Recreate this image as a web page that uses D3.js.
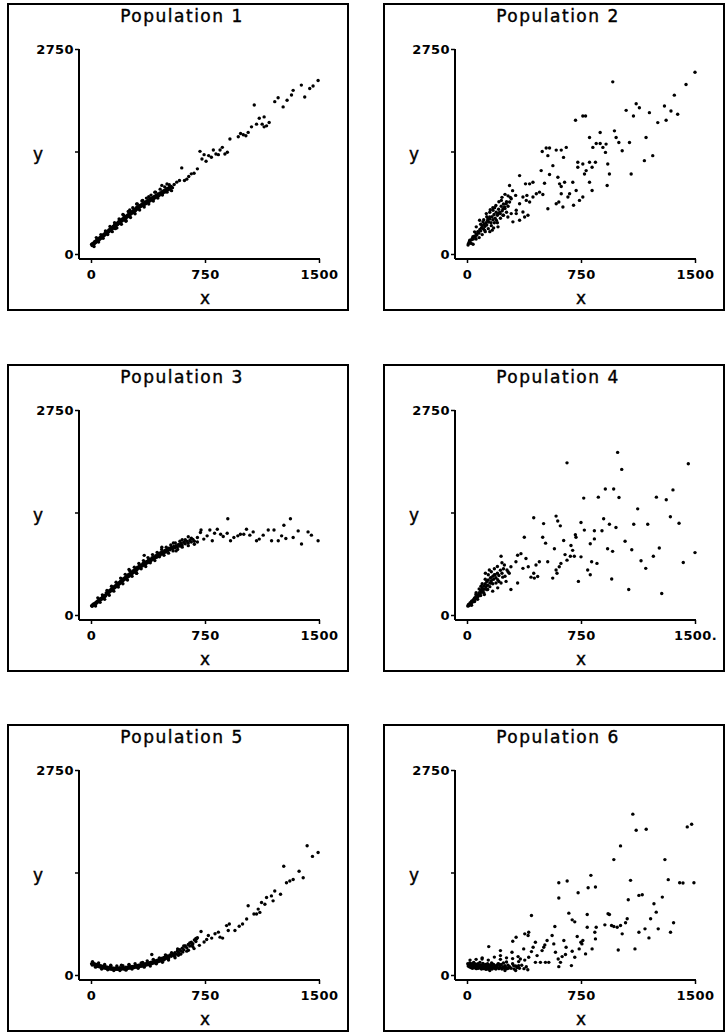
<!DOCTYPE html>
<html>
<head>
<meta charset="utf-8">
<script src="https://cdn.jsdelivr.net/npm/d3@7"></script>
<style>
  body { margin: 0; background: #fff; }
  text { fill: #000; }
</style>
</head>
<body>
<svg id="chart" width="726" height="1033"></svg>
<script>
// Panel titles and axis ticks
const titles = ["Population 1", "Population 2", "Population 3", "Population 4", "Population 5", "Population 6"];
const xTicks = [0, 750, 1500];
const yTicks = [0, 1375, 2750];
const yTickLabels = ["0", "", "2750"];
const xTickLabels = [["0", "750", "1500"], ["0", "750", "1500"], ["0", "750", "1500"],
                     ["0", "750", "1500."], ["0", "750", "1500"], ["0", "750", "1500"]];

// Population 1: almost straight line
const pop1 = [
  [4,130],[7,115],[10,138],[13,125],[16,145],[19,135],[22,160],[25,145],[28,168],[31,158],[34,178],[37,165],[40,190],[43,178],
  [46,198],[49,188],[52,210],[55,196],[58,220],[61,205],[64,228],[67,215],[70,240],[73,225],[76,250],[79,238],[82,258],[85,245],
  [88,270],[91,256],[94,280],[97,268],[100,290],[103,275],[106,300],[109,288],[112,310],[115,296],[118,322],[121,305],[124,330],
  [127,318],[130,342],[133,326],[136,352],[139,338],[142,362],[145,345],[148,372],[151,358],[154,385],[157,368],[160,392],[163,375],
  [166,402],[169,388],[172,410],[175,395],[178,425],[181,405],[184,432],[187,418],[190,440],[193,425],[196,455],[199,438],[202,462],
  [206,445],[210,475],[214,458],[218,490],[222,470],[226,500],[230,482],[234,512],[238,495],[242,525],[246,505],[250,540],[254,520],
  [258,552],[262,535],[266,565],[270,548],[274,575],[278,560],[282,590],[286,570],[290,602],[294,585],[298,620],[302,600],[306,630],
  [310,612],[315,645],[320,628],[325,655],[330,640],[335,668],[340,652],[345,680],[350,662],[355,695],[360,675],[365,705],[370,690],
  [375,720],[380,700],[385,735],[390,715],[395,745],[400,728],[406,760],[412,740],[418,775],[424,755],[430,790],[436,770],[442,805],
  [448,785],[454,820],[460,800],[466,835],[472,815],[478,850],[484,830],[490,862],[496,845],[502,878],[508,860],[514,892],[520,872],
  [528,905],[536,890],[210,530],[255,590],[300,670],[340,720],[380,770],[420,830],[466,920],[500,940],[230,450],[160,340],
  [20,100],[35,220],[50,160],[65,260],[80,210],[95,310],[110,260],[125,370],[140,300],[155,420],[170,350],[185,470],[200,400],
  [215,520],[230,440],[245,570],[260,490],[275,620],[290,540],[305,670],[320,590],[335,710],[350,630],[365,750],[380,670],
  [395,790],[410,710],[425,830],[440,750],[455,870],[470,790],[485,900],[500,830],[515,930],[530,850],
  [547,933],[564,964],[582,986],[597,1155],[615,986],[630,1004],[643,1040],[660,1075],[678,1084],[700,1142],[717,1377],[730,1275],
  [744,1333],[757,1244],[774,1320],[792,1297],[805,1395],[822,1342],[838,1333],[849,1395],[864,1431],[881,1342],[897,1364],
  [914,1542],[969,1573],[984,1617],[1002,1600],[1019,1586],[1034,1631],[1056,1706],[1074,1999],[1089,1742],[1107,1822],
  [1126,1742],[1139,1839],[1139,1706],[1155,1719],[1172,1764],[1209,2044],[1231,2097],[1264,1973],[1290,2062],[1319,2133],
  [1330,2195],[1384,2266],[1406,2106],[1439,2221],[1461,2253],[1494,2328]
];

// Population 2: linear trend, spread growing with x
const pop2 = [
  [10,140],[15,165],[22,150],[30,190],[35,210],[42,200],[48,240],[55,230],[60,270],[65,255],[72,300],[78,280],[85,330],[90,310],
  [95,350],[100,380],[108,340],[112,400],[118,370],[125,420],[130,390],[135,450],[142,430],[150,470],[158,420],[165,500],[170,460],
  [178,530],[185,480],[192,560],[200,520],[208,600],[215,560],[225,640],[232,580],[240,670],[250,610],[260,700],[270,640],[285,760],
  [40,130],[60,200],[80,220],[100,260],[120,300],[140,340],[160,380],[180,420],[90,400],[110,460],[130,500],[150,560],[170,620],
  [190,650],[210,700],[230,760],[250,800],[200,420],[220,480],[240,520],[260,560],[270,780],[300,850],[150,300],[175,350],
  [7,120],[28,142],[18,186],[39,231],[50,297],[72,297],[61,364],[83,453],[116,320],[105,431],[138,475],[127,542],[149,497],
  [171,586],[153,595],[182,622],[204,542],[219,542],[237,608],[226,719],[247,630],[258,675],[280,697],[291,741],[280,919],
  [324,586],[390,719],[368,764],[320,786],[346,1052],[346,675],[412,697],[434,764],[499,799],[477,830],[456,808],[394,786],
  [385,941],[412,941],[434,963],[620,808],[718,852],[696,963],[532,608],[587,675],[631,630],[604,697],[620,906],[664,764],
  [675,808],[642,963],[609,941],[598,1030],[543,1066],[510,950],[565,1185],[488,1119],[532,1319],[495,1376],[521,1421],
  [543,1421],[587,1394],[620,1394],[635,1296],[653,1430],[701,653],[740,719],[762,764],[823,852],[806,963],[729,1163],
  [729,1230],[773,1074],[762,1208],[784,1119],[806,1230],[845,1230],[823,1163],[922,919],[937,1074],[926,1208],[911,1363],
  [828,1430],[876,1629],[714,1794],[780,1851],[762,1851],[806,1563],[850,1483],[876,1483],[894,1430],[915,1474],[1222,1319],
  [1167,1252],[1080,1074],[1069,1496],[1021,1385],[999,1496],[981,1563],[970,1652],[959,2309],[1047,1927],[1095,1851],
  [1134,1962],[1113,2016],[1178,1563],[1200,1896],[1255,1763],[1310,1794],[1386,1874],[1299,1985],[1342,1918],[1364,2131],
  [1441,2273],[1500,2438],[379,497],[302,431],[291,542],[193,453],[204,364],[166,320],[237,520],[269,497],[324,542],
  [368,564],[401,520],[346,453]
];

// Population 3: concave curve levelling off
const pop3 = [
  [4,125],[8,118],[12,140],[16,132],[20,150],[24,142],[28,162],[32,155],[36,175],[40,165],[44,190],[48,180],[52,200],[56,192],
  [60,215],[64,205],[68,225],[72,215],[76,238],[80,228],[84,250],[88,240],[92,262],[96,255],[100,295],[104,280],[108,305],
  [112,292],[116,318],[120,305],[124,330],[128,318],[132,345],[136,330],[140,360],[144,345],[148,372],[152,360],[156,388],
  [160,372],[164,398],[168,385],[172,412],[176,398],[180,428],[184,412],[188,440],[192,425],[196,458],[200,440],[205,475],
  [210,460],[215,490],[220,475],[225,505],[230,490],[235,520],[240,505],[245,540],[250,520],[255,555],[260,540],[265,570],
  [270,555],[275,590],[280,570],[285,600],[290,585],[295,615],[300,600],[306,640],[312,625],[318,655],[324,640],[330,670],
  [336,655],[342,690],[348,670],[354,705],[360,685],[366,720],[372,700],[378,735],[384,715],[390,750],[396,730],[402,768],
  [408,748],[414,780],[420,760],[426,795],[432,775],[438,805],[444,790],[450,830],[456,805],[462,840],[468,820],[474,850],
  [480,835],[486,865],[492,845],[498,880],[505,860],[512,895],[520,875],[528,905],[536,888],[544,920],[552,900],[560,930],
  [568,912],[576,945],[584,925],[592,960],[600,940],[610,975],[620,955],[630,990],[640,965],[650,1000],[660,980],[670,1015],
  [680,990],[350,800],[466,909],[300,560],[250,610],[542,966],[600,1010],[560,860],[640,1050],
  [30,120],[45,230],[60,170],[75,270],[90,210],[105,330],[120,265],[135,385],[150,320],[165,440],[180,375],[195,495],[210,420],
  [225,545],[240,470],[255,595],[270,520],[285,640],[300,560],[315,690],[330,620],[345,730],[360,650],[375,770],[390,700],
  [405,810],[420,730],[435,840],[450,780],[465,880],[480,800],[495,910],[510,830],[525,940],[540,860],[555,965],[570,880],
  [585,990],[600,910],[620,1010],[640,930],[660,1030],[680,950],[700,1040],[700,980],
  [720,1106],[724,1141],[742,1018],[764,1062],[782,1141],[798,997],[813,1097],[831,1150],[853,1084],[870,1054],[896,1097],
  [900,1291],[918,997],[940,1040],[966,1062],[983,1084],[1005,1084],[1023,1150],[1045,1071],[1067,1115],[1089,997],
  [1107,1018],[1133,1071],[1166,1141],[1188,997],[1204,1141],[1232,997],[1254,1062],[1269,1203],[1282,1027],[1312,1291],
  [1330,1040],[1363,1128],[1385,953],[1428,1115],[1450,1071],[1494,997]
];

// Population 4: wide fan
const pop4 = [
  [5,120],[10,140],[15,130],[20,160],[25,150],[30,185],[35,170],[40,200],[45,190],[50,230],[55,210],[60,250],[65,235],[70,270],
  [75,255],[80,300],[85,280],[90,330],[95,305],[100,360],[105,330],[110,390],[115,350],[120,420],[125,380],[130,450],[135,400],
  [140,470],[150,430],[155,500],[160,460],[170,520],[175,480],[185,540],[190,500],[200,560],[210,530],[220,600],[230,560],[240,620],
  [30,130],[50,180],[70,210],[90,260],[110,300],[130,340],[150,380],[170,420],[60,300],[80,350],[100,420],[120,480],[140,540],
  [160,580],[180,620],[200,650],[230,700],[250,520],[270,580],[210,450],
  [11,123],[26,166],[44,210],[59,276],[70,245],[92,385],[103,342],[114,276],[121,561],[136,342],[147,604],[158,429],[169,320],
  [180,539],[191,429],[202,473],[202,364],[224,788],[224,429],[235,508],[246,670],[257,451],[263,604],[278,561],[289,648],
  [289,342],[322,714],[333,801],[333,429],[355,823],[368,626],[377,1042],[388,758],[403,648],[421,508],[439,561],[443,495],
  [454,670],[465,517],[476,714],[531,714],[564,495],[586,604],[592,561],[607,648],[618,692],[658,736],[680,788],[695,867],
  [733,451],[794,604],[811,539],[820,714],[855,692],[952,482],[1064,342],[1281,289],[575,889],[645,810],[706,788],[750,780],
  [925,889],[958,854],[1040,990],[1084,876],[1145,727],[1176,626],[1226,788],[1265,898],[1500,837],[1423,705],[498,1042],
  [517,964],[636,999],[684,933],[713,1077],[717,1042],[838,1021],[811,955],[772,1139],[838,1130],[888,1130],[504,1226],
  [439,1305],[586,1327],[597,1261],[614,1196],[750,1240],[899,1292],[937,1218],[980,1174],[1097,1218],[1189,1218],[1338,1318],
  [1395,1231],[1123,1424],[910,1691],[965,1691],[768,1568],[864,1581],[1000,1577],[1246,1581],[1311,1546],[1355,1678],
  [658,2041],[991,2181],[1018,1953],[1456,2028]
];

// Population 5: convex curve, flat near zero then rising
const pop5 = [
  [4,150],[8,135],[12,160],[16,140],[20,150],[24,130],[28,145],[32,125],[36,140],[40,120],[44,135],[48,115],[52,130],[56,110],
  [60,125],[64,105],[68,120],[72,100],[76,115],[80,95],[84,110],[88,95],[92,115],[96,90],[100,108],[105,88],[110,105],[115,85],
  [120,100],[125,80],[130,98],[135,78],[140,95],[145,80],[150,92],[155,75],[160,90],[165,78],[170,95],[175,75],[180,90],[185,80],
  [190,98],[195,78],[200,92],[205,82],[210,100],[215,80],[220,95],[225,85],[230,105],[235,85],[240,100],[245,90],[250,110],
  [255,92],[260,108],[265,95],[270,115],[275,98],[280,112],[285,100],[290,120],[295,105],[300,125],[306,108],[312,130],[318,112],
  [324,135],[330,118],[336,140],[342,122],[348,148],[354,128],[360,152],[366,135],[372,160],[378,140],[384,165],[390,148],
  [396,172],[402,155],[408,180],[414,160],[420,188],[426,168],[432,195],[438,178],[444,205],[450,185],[456,215],[462,195],
  [468,225],[474,205],[480,235],[486,215],[492,245],[498,225],[505,255],[512,240],[520,270],[528,250],[536,285],[544,265],
  [552,300],[560,280],[568,320],[576,300],[584,340],[592,320],[600,360],[610,340],[620,385],[630,365],[640,410],[650,390],
  [660,440],[670,420],[680,470],[690,450],[700,500],[130,130],[200,130],[250,140],[340,170],[400,274],
  [10,180],[30,105],[50,160],[70,80],[90,140],[110,70],[130,120],[150,60],[170,120],[190,60],[210,125],[230,65],[250,135],
  [270,80],[290,150],[310,90],[330,160],[350,105],[370,190],[390,120],[410,210],[430,150],[450,230],[470,170],[490,270],
  [510,200],[530,300],[550,250],[570,350],[590,280],[610,390],[630,320],[650,430],[670,380],[690,490],
  [433,168],[477,199],[510,221],[553,230],[575,265],[604,309],[619,389],[641,332],[663,398],[678,354],[695,486],[713,398],
  [724,583],[744,442],[761,477],[772,530],[794,495],[816,553],[849,508],[838,575],[903,597],[866,495],[892,663],[910,685],
  [947,597],[975,654],[997,685],[1024,751],[1034,928],[1072,818],[1111,840],[1089,818],[1100,884],[1122,972],[1144,950],
  [1155,1039],[1187,1061],[1198,995],[1209,1127],[1247,1083],[1286,1238],[1308,1260],[1330,1282],[1396,1304],[1369,1392],
  [1268,1459],[1457,1591],[1494,1644],[1422,1733]
];

// Population 6: convex trend, spread growing with x
const pop6 = [
  [5,150],[8,120],[12,140],[15,110],[18,160],[22,130],[25,100],[28,150],[32,120],[35,90],[38,140],[42,110],[45,160],[48,95],
  [52,130],[55,105],[58,145],[62,85],[65,125],[68,100],[72,150],[75,90],[78,130],[82,110],[85,170],[88,95],[92,135],[95,80],
  [98,120],[102,100],[105,155],[108,85],[112,130],[115,105],[118,90],[122,140],[125,75],[128,115],[132,95],[135,150],[138,80],
  [142,120],[145,100],[148,135],[152,85],[155,110],[158,95],[162,160],[165,80],[168,125],[172,100],[175,140],[180,90],[185,115],
  [190,80],[195,130],[200,100],[205,150],[210,85],[215,120],[220,95],[225,140],[230,80],[235,110],[240,160],[245,90],[250,125],
  [255,100],[260,175],[265,85],[270,130],[280,110],[290,90],[300,150],[310,80],[320,120],[330,100],[345,90],[360,130],[375,85],
  [390,110],[20,200],[60,210],[100,230],[140,200],[180,240],[220,210],[260,230],[300,220],[340,180],[380,200],[150,60],
  [250,60],[320,60],[400,70],
  [44,170],[99,215],[121,126],[143,381],[165,148],[208,148],[220,260],[220,327],[274,94],[296,305],[301,453],
  [307,126],[323,507],[336,247],[340,126],[351,215],[373,350],[380,552],[402,529],[406,574],[406,238],[424,798],[424,314],
  [435,372],[450,440],[450,170],[461,260],[483,170],[494,327],[505,372],[512,404],[516,170],[527,462],[538,170],[560,529],
  [571,417],[578,650],[582,305],[600,215],[604,112],[615,170],[626,247],[637,462],[648,274],[652,372],[670,830],[687,126],
  [692,740],[692,318],[709,713],[709,238],[725,516],[738,350],[749,440],[756,417],[762,462],[780,283],[791,641],[791,812],
  [823,350],[841,574],[845,484],[850,641],[907,673],[928,821],[937,812],[951,664],[966,650],[988,641],[995,336],[1010,664],
  [1021,552],[1043,700],[1054,754],[1105,350],[1131,574],[1171,619],[1197,498],[1208,754],[1245,843],[1258,619],[1339,574],
  [1359,700],[1230,956],[1285,1045],[1061,1009],[1131,1068],[1153,1077],[845,1180],[797,1171],[731,1104],[604,1032],
  [604,1238],[659,1261],[815,1337],[1076,1270],[1324,1279],[1399,1238],[1421,1234],[1493,1238],[966,1548],[1302,1548],
  [1010,1732],[1091,2158],[1113,1942],[1179,1956],[1449,1987],[1478,2023]
];

const populations = [pop1, pop2, pop3, pop4, pop5, pop6];

// Layout of the 3x2 grid
const boxW = 340, boxH = 306;
const colX = [8, 384];
const rowY = [4, 365, 725];
const axisX = 71, axisY = 255;

const svg = d3.select("#chart");

populations.forEach((data, i) => {
    const g = svg.append("g")
        .attr("transform", `translate(${colX[i % 2]},${rowY[Math.floor(i / 2)]})`);

    // Frame round the panel
    g.append("rect")
        .attr("x", 0).attr("y", 0)
        .attr("width", boxW).attr("height", boxH)
        .attr("fill", "none")
        .attr("stroke", "#000")
        .attr("stroke-width", 2);

    const x = d3.scaleLinear().domain([0, 1500]).range([83, 311]);
    const y = d3.scaleLinear().domain([0, 2750]).range([250, 45]);

    // Axis lines
    g.append("line")
        .attr("x1", axisX).attr("x2", axisX)
        .attr("y1", y(2750)).attr("y2", axisY)
        .attr("stroke", "#000").attr("stroke-width", 2);
    g.append("line")
        .attr("x1", axisX).attr("x2", x(1500) + 1)
        .attr("y1", axisY).attr("y2", axisY)
        .attr("stroke", "#000").attr("stroke-width", 2);

    const yAxis = g.append("g")
        .attr("transform", `translate(${axisX},0)`)
        .call(d3.axisLeft(y).tickValues(yTicks).tickSize(4).tickSizeOuter(0)
            .tickFormat((d, k) => yTickLabels[k]));
    const xAxis = g.append("g")
        .attr("transform", `translate(0,${axisY})`)
        .call(d3.axisBottom(x).tickValues(xTicks).tickSize(4).tickSizeOuter(0)
            .tickFormat((d, k) => xTickLabels[i][k]));

    [yAxis, xAxis].forEach(a => {
        a.select(".domain").remove();
        a.selectAll("line").attr("stroke", "#000").attr("stroke-width", 1.5);
        a.selectAll("text")
            .style("font-family", "DejaVu Sans, sans-serif")
            .style("font-weight", "bold")
            .style("font-size", "13px")
            .style("letter-spacing", "0.4px")
            .attr("fill", "#000");
    });
    yAxis.selectAll("text").attr("x", -5);
    xAxis.selectAll("text").attr("y", 11);

    // Panel title and axis titles
    g.append("text")
        .attr("x", boxW / 2 + 4)
        .attr("y", 18)
        .attr("text-anchor", "middle")
        .attr("stroke", "#000")
        .attr("stroke-width", 0.4)
        .style("font-family", "DejaVu Sans, sans-serif")
        .style("font-size", "17px")
        .style("letter-spacing", "1.5px")
        .text(titles[i]);

    g.append("text")
        .attr("x", 30)
        .attr("y", 156)
        .attr("text-anchor", "middle")
        .attr("stroke", "#000")
        .attr("stroke-width", 0.4)
        .style("font-family", "DejaVu Sans, sans-serif")
        .style("font-size", "17px")
        .text("y");

    g.append("text")
        .attr("x", x(750))
        .attr("y", 300)
        .attr("text-anchor", "middle")
        .attr("stroke", "#000")
        .attr("stroke-width", 0.4)
        .style("font-family", "DejaVu Sans, sans-serif")
        .style("font-size", "17px")
        .text("x");

    // Points
    g.selectAll("circle")
        .data(data)
        .enter()
        .append("circle")
        .attr("cx", d => x(d[0]))
        .attr("cy", d => y(d[1]))
        .attr("r", 1.7)
        .attr("fill", "#000");
});
</script>
</body>
</html>
